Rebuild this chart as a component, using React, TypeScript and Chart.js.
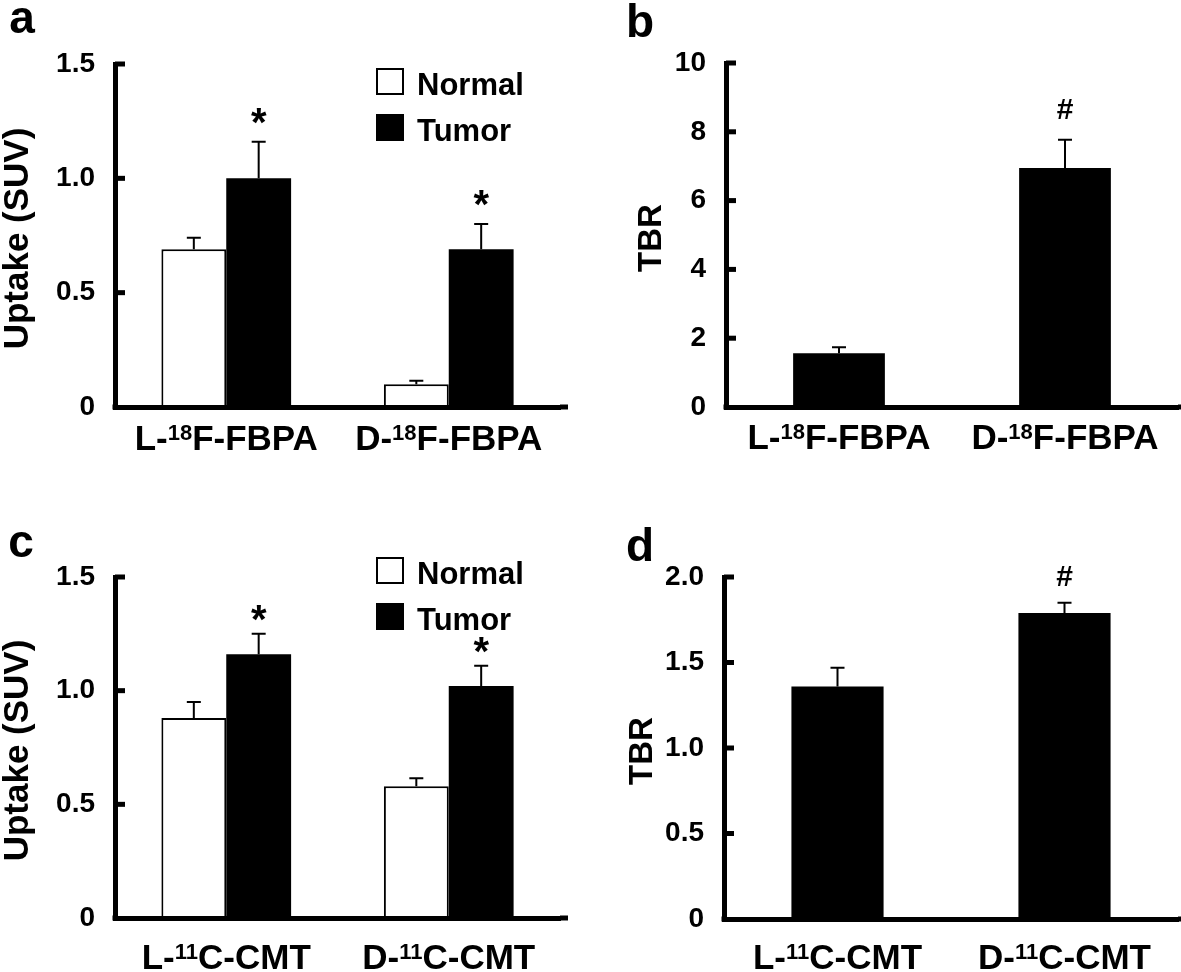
import React, { useEffect, useRef } from "react";
import { Chart, registerables } from "chart.js";

Chart.register(...registerables);

const FONT = "'Liberation Sans', Arial, Helvetica, sans-serif";

// ---------- data ----------
const seriesNames = ["Normal", "Tumor"];

const fbpaCategories = [
  ["L-", "18", "F-FBPA"],
  ["D-", "18", "F-FBPA"],
];
const cmtCategories = [
  ["L-", "11", "C-CMT"],
  ["D-", "11", "C-CMT"],
];

// panel a
const normalFBPA = [0.69, 0.1];
const normalFBPAErr = [0.05, 0.015];
const tumorFBPA = [1.0, 0.69];
const tumorFBPAErr = [0.16, 0.11];
const tumorFBPAMarks = ["*", "*"];
const uptakeTicks = ["0", "0.5", "1.0", "1.5"];

// panel b
const tbrFBPA = [1.56, 6.95];
const tbrFBPAErr = [0.18, 0.82];
const tbrFBPAMarks = ["", "#"];
const tbrFBPATicks = ["0", "2", "4", "6", "8", "10"];

// panel c
const normalCMT = [0.88, 0.58];
const normalCMTErr = [0.07, 0.035];
const tumorCMT = [1.16, 1.02];
const tumorCMTErr = [0.09, 0.09];
const tumorCMTMarks = ["*", "*"];

// panel d
const tbrCMT = [1.36, 1.79];
const tbrCMTErr = [0.11, 0.06];
const tbrCMTMarks = ["", "#"];
const tbrCMTTicks = ["0", "0.5", "1.0", "1.5", "2.0"];

// ---------- specs ----------
type Series = { name: string; values: number[]; err: number[]; marks: string[]; fill: string };
type Spec = {
  letter: string;
  left: number;
  top: number;
  width: number;
  height: number;
  area: { l: number; t: number; r: number; b: number };
  yMax: number;
  yStep: number;
  tickLabels: string[];
  yTitle: string;
  titleX: number;
  titleSize: number;
  categories: string[][];
  series: Series[];
  catPct: number;
  barPct: number;
  legend: null | { x: number; y: number };
  letterX: number;
  letterY: number;
  markGap: number;
  markSize: number;
  labelGap: number;
  extendRight: number;
};

const none = ["", ""];

const specs: Spec[] = [
  {
    letter: "a",
    left: 0,
    top: 0,
    width: 590,
    height: 486,
    area: { l: 115, t: 64, r: 560, b: 407 },
    yMax: 1.5,
    yStep: 0.5,
    tickLabels: uptakeTicks,
    yTitle: "Uptake (SUV)",
    titleX: 18,
    titleSize: 35,
    categories: fbpaCategories,
    series: [
      { name: seriesNames[0], values: normalFBPA, err: normalFBPAErr, marks: none, fill: "#ffffff" },
      { name: seriesNames[1], values: tumorFBPA, err: tumorFBPAErr, marks: tumorFBPAMarks, fill: "#000000" },
    ],
    catPct: 0.583,
    barPct: 1,
    legend: { x: 376, y: 68 },
    letterX: 22,
    letterY: 20,
    markGap: 26,
    markSize: 40,
    labelGap: 43,
    extendRight: 8,
  },
  {
    letter: "b",
    left: 590,
    top: 0,
    width: 591,
    height: 486,
    area: { l: 136, t: 63, r: 588, b: 407 },
    yMax: 10,
    yStep: 2,
    tickLabels: tbrFBPATicks,
    yTitle: "TBR",
    titleX: 62,
    titleSize: 33,
    categories: fbpaCategories,
    series: [{ name: "TBR", values: tbrFBPA, err: tbrFBPAErr, marks: tbrFBPAMarks, fill: "#000000" }],
    catPct: 1,
    barPct: 0.406,
    legend: null,
    letterX: 50,
    letterY: 20,
    markGap: 31,
    markSize: 30,
    labelGap: 42,
    extendRight: 3,
  },
  {
    letter: "c",
    left: 0,
    top: 486,
    width: 590,
    height: 486,
    area: { l: 115, t: 91, r: 560, b: 432 },
    yMax: 1.5,
    yStep: 0.5,
    tickLabels: uptakeTicks,
    yTitle: "Uptake (SUV)",
    titleX: 18,
    titleSize: 35,
    categories: cmtCategories,
    series: [
      { name: seriesNames[0], values: normalCMT, err: normalCMTErr, marks: none, fill: "#ffffff" },
      { name: seriesNames[1], values: tumorCMT, err: tumorCMTErr, marks: tumorCMTMarks, fill: "#000000" },
    ],
    catPct: 0.583,
    barPct: 1,
    legend: { x: 376, y: 71 },
    letterX: 21,
    letterY: 58,
    markGap: 21,
    markSize: 40,
    labelGap: 51,
    extendRight: 8,
  },
  {
    letter: "d",
    left: 590,
    top: 486,
    width: 591,
    height: 486,
    area: { l: 134, t: 91, r: 588, b: 433 },
    yMax: 2,
    yStep: 0.5,
    tickLabels: tbrCMTTicks,
    yTitle: "TBR",
    titleX: 53,
    titleSize: 33,
    categories: cmtCategories,
    series: [{ name: "TBR", values: tbrCMT, err: tbrCMTErr, marks: tbrCMTMarks, fill: "#000000" }],
    catPct: 1,
    barPct: 0.406,
    legend: null,
    letterX: 50,
    letterY: 58,
    markGap: 27,
    markSize: 30,
    labelGap: 50,
    extendRight: 3,
  },
];

// draw a glyph so that its ink box is centered at (x, y)
function drawCentered(ctx: CanvasRenderingContext2D, text: string, x: number, y: number) {
  ctx.textAlign = "center";
  ctx.textBaseline = "alphabetic";
  const m = ctx.measureText(text);
  const asc = m.actualBoundingBoxAscent;
  const desc = m.actualBoundingBoxDescent;
  ctx.fillText(text, x, y + (asc - desc) / 2);
}

function makePlugin(spec: Spec) {
  return {
    id: "panelDecor",
    afterDatasetsDraw(chart: any) {
      const ctx: CanvasRenderingContext2D = chart.ctx;
      const yScale = chart.scales.y;
      chart.data.datasets.forEach((ds: any, di: number) => {
        const meta = chart.getDatasetMeta(di);
        meta.data.forEach((el: any, i: number) => {
          const v = ds.data[i];
          const e = ds.err[i];
          const topPx = yScale.getPixelForValue(v + e);
          ctx.save();
          ctx.strokeStyle = "#000";
          ctx.lineWidth = 2;
          ctx.beginPath();
          ctx.moveTo(el.x, el.y);
          ctx.lineTo(el.x, topPx);
          ctx.moveTo(el.x - 7, topPx);
          ctx.lineTo(el.x + 7, topPx);
          ctx.stroke();
          const mark = ds.marks ? ds.marks[i] : "";
          if (mark) {
            ctx.fillStyle = "#000";
            ctx.font = `bold ${spec.markSize}px ${FONT}`;
            drawCentered(ctx, mark, el.x, topPx - spec.markGap);
          }
          ctx.restore();
        });
      });
    },
    afterDraw(chart: any) {
      const ctx: CanvasRenderingContext2D = chart.ctx;
      const { left, right, top, bottom } = chart.chartArea;
      const yScale = chart.scales.y;
      const xScale = chart.scales.x;
      ctx.save();
      ctx.fillStyle = "#000";
      // inward ticks
      yScale.ticks.forEach((t: any) => {
        if (t.value === 0) return;
        const py = yScale.getPixelForValue(t.value);
        ctx.fillRect(left, py - 2.5, 10, 5);
      });
      // axis corner and extension
      ctx.fillRect(left - 2.5, bottom - 2.5, 5, 5);
      ctx.fillRect(right, bottom - 2.5, spec.extendRight, 5);

      // category labels with superscript
      const big = `bold 35px ${FONT}`;
      const small = `bold 22px ${FONT}`;
      ctx.textBaseline = "alphabetic";
      ctx.textAlign = "left";
      spec.categories.forEach((parts, i) => {
        const cx = xScale.getPixelForValue(i);
        ctx.font = big;
        const w1 = ctx.measureText(parts[0]).width;
        const w3 = ctx.measureText(parts[2]).width;
        ctx.font = small;
        const w2 = ctx.measureText(parts[1]).width;
        const total = w1 + w2 + w3;
        let x = cx - total / 2;
        const base = bottom + spec.labelGap;
        ctx.font = big;
        ctx.fillText(parts[0], x, base);
        x += w1;
        ctx.font = small;
        ctx.fillText(parts[1], x, base - 10);
        x += w2;
        ctx.font = big;
        ctx.fillText(parts[2], x, base);
      });

      // y title
      ctx.save();
      ctx.translate(spec.titleX, (top + bottom) / 2 + 3);
      ctx.rotate(-Math.PI / 2);
      ctx.font = `bold ${spec.titleSize}px ${FONT}`;
      ctx.textAlign = "center";
      ctx.textBaseline = "middle";
      ctx.fillText(spec.yTitle, 0, 0);
      ctx.restore();

      // panel letter
      ctx.font = `bold 46px ${FONT}`;
      drawCentered(ctx, spec.letter, spec.letterX, spec.letterY);

      // legend
      if (spec.legend) {
        const { x, y } = spec.legend;
        const gap = 46;
        chart.data.datasets.forEach((ds: any, i: number) => {
          const by = y + i * gap;
          if (ds.backgroundColor === "#ffffff") {
            ctx.fillStyle = "#fff";
            ctx.fillRect(x, by, 28, 27);
            ctx.strokeStyle = "#000";
            ctx.lineWidth = 2;
            ctx.strokeRect(x + 1, by + 1, 26, 25);
          } else {
            ctx.fillStyle = "#000";
            ctx.fillRect(x, by, 28, 27);
          }
          ctx.fillStyle = "#000";
          ctx.font = `bold 31px ${FONT}`;
          ctx.textAlign = "left";
          ctx.textBaseline = "alphabetic";
          ctx.fillText(ds.label, x + 41, by + 27);
        });
      }
      ctx.restore();
    },
  };
}

function buildConfig(spec: Spec): any {
  return {
    type: "bar",
    data: {
      labels: spec.categories.map((c) => c.join("")),
      datasets: spec.series.map((s) => ({
        label: s.name,
        data: s.values,
        err: s.err,
        marks: s.marks,
        backgroundColor: s.fill,
        borderColor: "#000000",
        borderWidth: s.fill === "#ffffff" ? 2 : 0,
        categoryPercentage: spec.catPct,
        barPercentage: spec.barPct,
      })),
    },
    options: {
      responsive: false,
      animation: false,
      events: [],
      layout: {
        padding: {
          left: 0,
          right: spec.width - spec.area.r,
          top: spec.area.t,
          bottom: spec.height - spec.area.b,
        },
      },
      plugins: { legend: { display: false }, tooltip: { enabled: false } },
      scales: {
        x: {
          type: "category",
          grid: { display: false, drawTicks: false },
          ticks: { display: false },
          border: { display: true, width: 5, color: "#000", z: 1 },
          afterFit: (s: any) => {
            s.height = 0;
          },
        },
        y: {
          min: 0,
          max: spec.yMax,
          grid: { display: false, drawTicks: false },
          border: { display: true, width: 5, color: "#000", z: 1 },
          ticks: {
            stepSize: spec.yStep,
            padding: 20,
            color: "#000",
            font: { family: FONT, size: 28, weight: "bold" },
            callback: (_v: any, i: number) => spec.tickLabels[i],
          },
          afterFit: (s: any) => {
            s.width = spec.area.l;
          },
        },
      },
    },
    plugins: [makePlugin(spec)],
  };
}

function Panel({ spec }: { spec: Spec }) {
  const ref = useRef<HTMLCanvasElement>(null);
  useEffect(() => {
    if (!ref.current) return;
    const chart = new Chart(ref.current, buildConfig(spec));
    return () => chart.destroy();
  }, [spec]);
  return (
    <canvas
      ref={ref}
      width={spec.width}
      height={spec.height}
      style={{
        position: "absolute",
        left: spec.left,
        top: spec.top,
        width: spec.width,
        height: spec.height,
      }}
    />
  );
}

export default function App() {
  return (
    <div
      style={{
        position: "absolute",
        left: 0,
        top: 0,
        width: 1181,
        height: 972,
        background: "#ffffff",
        overflow: "hidden",
      }}
    >
      {specs.map((s) => (
        <Panel key={s.letter} spec={s} />
      ))}
    </div>
  );
}
